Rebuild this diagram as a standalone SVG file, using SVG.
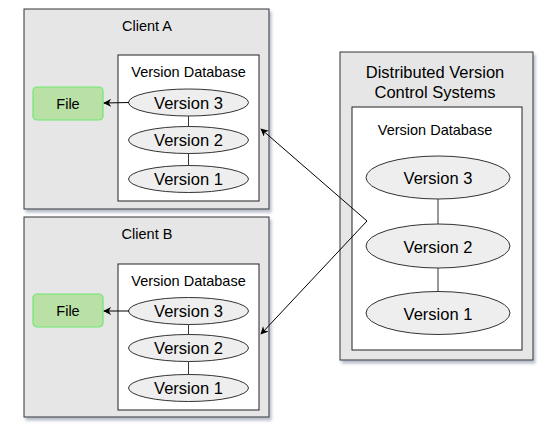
<svg xmlns="http://www.w3.org/2000/svg" width="556" height="428" viewBox="0 0 556 428">
<defs>
<filter id="sh" x="-10%" y="-10%" width="130%" height="130%">
<feDropShadow dx="2" dy="3" stdDeviation="1.5" flood-color="#7a86a0" flood-opacity="0.55"/>
</filter>
<marker id="arr" viewBox="0 0 10 10" refX="9" refY="5" markerWidth="8" markerHeight="8" orient="auto-start-reverse" markerUnits="userSpaceOnUse">
<path d="M0,0 L10,5 L0,10 L3,5 Z" fill="#000"/>
</marker>
<style>
text{font-family:"Liberation Sans",Arial,sans-serif;fill:#000;text-anchor:middle}
.outer{fill:#e6e6e6;stroke:#333;stroke-width:1}
.inner{fill:#fff;stroke:#222;stroke-width:1}
.ell{fill:#eeeeee;stroke:#333;stroke-width:1}
.file{fill:#b9e0a5;stroke:#70e870;stroke-width:1.2}
.t{font-size:14.5px}
.v{font-size:16.5px}
.link{stroke:#333;stroke-width:1;fill:none}
.conn{stroke:#000;stroke-width:1;fill:none}
</style>
</defs>
<rect width="556" height="428" fill="#fff"/>
<g id="clientA">
<rect class="outer" x="24" y="9" width="245" height="200" filter="url(#sh)"/>
<text class="t" x="147" y="31">Client A</text>
<rect class="inner" x="118" y="55" width="141" height="146"/>
<text class="t" x="188.5" y="77">Version Database</text>
<line class="link" x1="188.5" y1="116" x2="188.5" y2="127"/>
<line class="link" x1="188.5" y1="153" x2="188.5" y2="166"/>
<ellipse class="ell" cx="188.5" cy="102.5" rx="60" ry="13.5"/>
<text class="v" x="188.5" y="108.5">Version 3</text>
<ellipse class="ell" cx="188.5" cy="140" rx="60" ry="13.5"/>
<text class="v" x="188.5" y="146">Version 2</text>
<ellipse class="ell" cx="188.5" cy="179" rx="60" ry="13.5"/>
<text class="v" x="188.5" y="185">Version 1</text>
</g>
<g id="fileA">
<rect class="file" x="33" y="87" width="70" height="33" rx="4"/>
<text class="t" x="68" y="108.5">File</text>
</g>
<g id="clientB">
<rect class="outer" x="24" y="217" width="245" height="200" filter="url(#sh)"/>
<text class="t" x="147" y="239">Client B</text>
<rect class="inner" x="118" y="264" width="141" height="146"/>
<text class="t" x="188.5" y="286">Version Database</text>
<line class="link" x1="188.5" y1="324.5" x2="188.5" y2="335"/>
<line class="link" x1="188.5" y1="361.5" x2="188.5" y2="375"/>
<ellipse class="ell" cx="188.5" cy="311" rx="60" ry="13.5"/>
<text class="v" x="188.5" y="317">Version 3</text>
<ellipse class="ell" cx="188.5" cy="348" rx="60" ry="13.5"/>
<text class="v" x="188.5" y="354">Version 2</text>
<ellipse class="ell" cx="188.5" cy="388" rx="60" ry="13.5"/>
<text class="v" x="188.5" y="394">Version 1</text>
</g>
<g id="fileB">
<rect class="file" x="33" y="294" width="70" height="33" rx="4"/>
<text class="t" x="68" y="315.5">File</text>
</g>
<g id="server">
<rect class="outer" x="340" y="52" width="193" height="308" filter="url(#sh)"/>
<text class="v" x="435" y="78">Distributed Version</text>
<text class="v" x="435" y="98">Control Systems</text>
<rect class="inner" x="352" y="107" width="170" height="243"/>
<text class="t" x="435" y="135">Version Database</text>
<line class="link" x1="438" y1="199" x2="438" y2="224"/>
<line class="link" x1="438" y1="268" x2="438" y2="291"/>
<ellipse class="ell" cx="438" cy="177.5" rx="72" ry="21.5"/>
<text class="v" x="438" y="184">Version 3</text>
<ellipse class="ell" cx="438" cy="246" rx="72" ry="22"/>
<text class="v" x="438" y="252.5">Version 2</text>
<ellipse class="ell" cx="438" cy="313" rx="72" ry="21.5"/>
<text class="v" x="438" y="319.5">Version 1</text>
</g>
<g id="connectors">
<line class="conn" x1="129" y1="102.5" x2="104" y2="103" marker-end="url(#arr)"/>
<line class="conn" x1="129" y1="311" x2="104" y2="311" marker-end="url(#arr)"/>
<polyline class="conn" points="261,129 367,221 261,334" marker-start="url(#arr)" marker-end="url(#arr)"/>
</g>
</svg>
